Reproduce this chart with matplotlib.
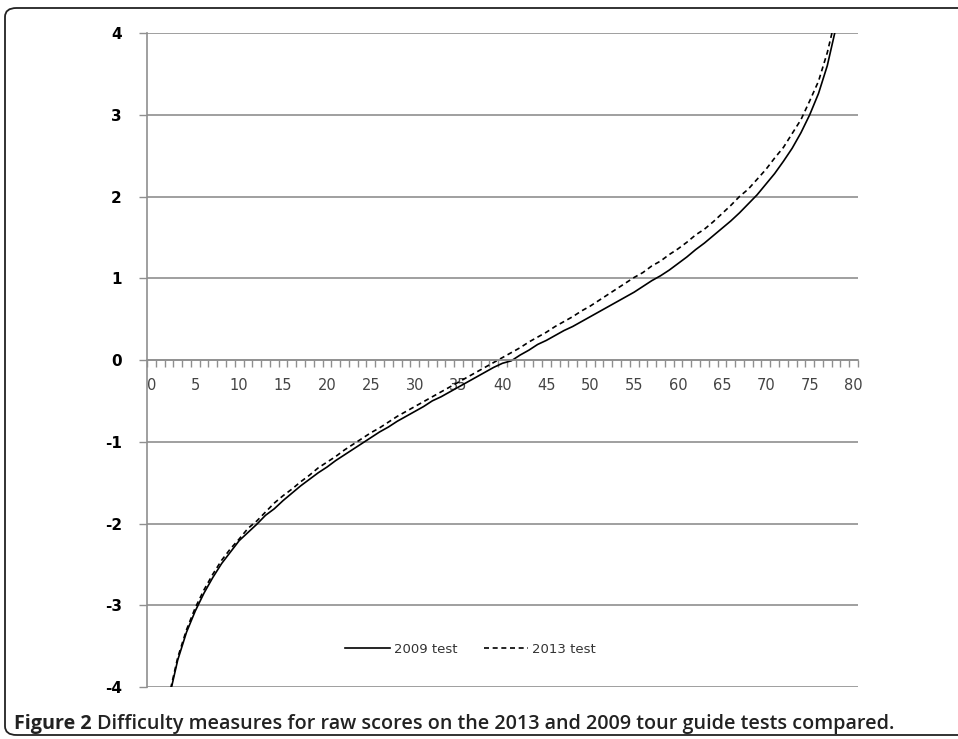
import matplotlib
matplotlib.use("Agg")
import matplotlib.pyplot as plt
import numpy as np
from matplotlib.patches import FancyBboxPatch

# raw scores and difficulty measures
raw_scores = list(range(1, 79))

test_2009 = [-4.93, -4.14, -3.67, -3.33, -3.07, -2.85, -2.66, -2.49, -2.35, -2.21,
             -2.11, -2.01, -1.90, -1.82, -1.72, -1.63, -1.54, -1.46, -1.38, -1.31,
             -1.23, -1.16, -1.09, -1.02, -0.95, -0.88, -0.82, -0.75, -0.69, -0.63,
             -0.57, -0.50, -0.45, -0.39, -0.33, -0.27, -0.21, -0.15, -0.09, -0.04,
             -0.01, 0.06, 0.12, 0.19, 0.24, 0.30, 0.36, 0.41, 0.47, 0.53,
             0.59, 0.65, 0.71, 0.77, 0.83, 0.90, 0.97, 1.03, 1.10, 1.18,
             1.26, 1.35, 1.43, 1.52, 1.61, 1.70, 1.80, 1.91, 2.02, 2.15,
             2.28, 2.43, 2.59, 2.78, 3.00, 3.26, 3.60, 4.07]

test_2013 = [-4.91, -4.11, -3.64, -3.30, -3.03, -2.81, -2.62, -2.45, -2.31, -2.19,
             -2.06, -1.97, -1.86, -1.75, -1.66, -1.58, -1.49, -1.41, -1.32, -1.25,
             -1.18, -1.10, -1.03, -0.96, -0.89, -0.83, -0.76, -0.69, -0.63, -0.57,
             -0.51, -0.45, -0.39, -0.33, -0.27, -0.21, -0.15, -0.09, -0.03, 0.03,
             0.09, 0.15, 0.22, 0.28, 0.34, 0.41, 0.47, 0.53, 0.60, 0.66,
             0.73, 0.80, 0.87, 0.94, 1.01, 1.07, 1.15, 1.21, 1.29, 1.36,
             1.44, 1.53, 1.60, 1.69, 1.79, 1.89, 2.00, 2.09, 2.21, 2.33,
             2.47, 2.60, 2.77, 2.94, 3.17, 3.41, 3.76, 4.21]

x_labels = list(range(0, 81, 5))
y_ticks = [-4, -3, -2, -1, 0, 1, 2, 3, 4]

W, H = 958, 739
fig = plt.figure(figsize=(W / 100, H / 100), dpi=100)

# rounded frame around the figure (right side runs off the crop)
frame = FancyBboxPatch((5 / W, 4 / H), 1.2, (739 - 8 - 4) / H, transform=fig.transFigure,
                       boxstyle="round,pad=0,rounding_size=0.012", fill=False,
                       edgecolor="#222222", linewidth=1.3)
fig.patches.append(frame)

ax = fig.add_axes([147 / W, (H - 687) / H, (858 - 147) / W, (687 - 33) / H])

grey = "#8f8f8f"
ax.plot(raw_scores, test_2009, color="black", linewidth=1.2, label="2009 test")
ax.plot(raw_scores, test_2013, color="black", linewidth=1.2, linestyle=(0, (3, 2.2)),
        label="2013 test")

ax.set_xlim(-0.5, 80.5)
ax.set_ylim(-4, 4)

# y axis
ax.set_yticks(y_ticks)
ax.set_yticklabels([str(v) for v in y_ticks], fontweight="bold", fontsize=11)
ax.tick_params(axis="y", length=6, width=1, color=grey, pad=12)
ax.yaxis.grid(True, color=grey, linewidth=1.2)
ax.set_axisbelow(True)

# x axis drawn through zero
ax.spines["bottom"].set_position(("data", 0))
ax.spines["bottom"].set_color(grey)
ax.spines["bottom"].set_linewidth(1.2)
ax.spines["left"].set_color(grey)
ax.spines["left"].set_linewidth(1.2)
ax.spines["top"].set_visible(False)
ax.spines["right"].set_visible(False)

ax.set_xticks(x_labels)
ax.set_xticklabels([str(v) for v in x_labels], fontsize=10.5, color="#444444")
ax.set_xticks(np.arange(-0.5, 81, 1), minor=True)
ax.tick_params(axis="x", which="major", length=0, pad=13)
ax.tick_params(axis="x", which="minor", length=5, width=1, color=grey, direction="out")

leg = ax.legend(loc="center", bbox_to_anchor=(0.455, 0.058), ncol=2, frameon=False,
                fontsize=9.5, handlelength=3.4, columnspacing=2.0, handletextpad=0.3)
for t in leg.get_texts():
    t.set_color("#333333")

# caption, sized to run from x=14 to x=893 like the original
cap_y = 10 / H
size = 13
r = fig.canvas.get_renderer()
t1 = fig.text(14 / W, cap_y, "Figure 2", fontsize=size, fontweight="bold",
              family="Open Sans", color="#222222", va="baseline")
t2 = fig.text(0, cap_y,
              "Difficulty measures for raw scores on the 2013 and 2009 tour guide tests compared.",
              fontsize=size, fontweight="semibold", family="Open Sans",
              color="#222222", va="baseline")
for _ in range(3):
    bb = t1.get_window_extent(r)
    t2.set_x((bb.x1 + 5) / W)
    end = t2.get_window_extent(r).x1
    size = size * (893 - 14) / (end - 14)
    t1.set_fontsize(size)
    t2.set_fontsize(size)
bb = t1.get_window_extent(r)
t2.set_x((bb.x1 + 5) / W)

fig.savefig("out.png", dpi=100)
